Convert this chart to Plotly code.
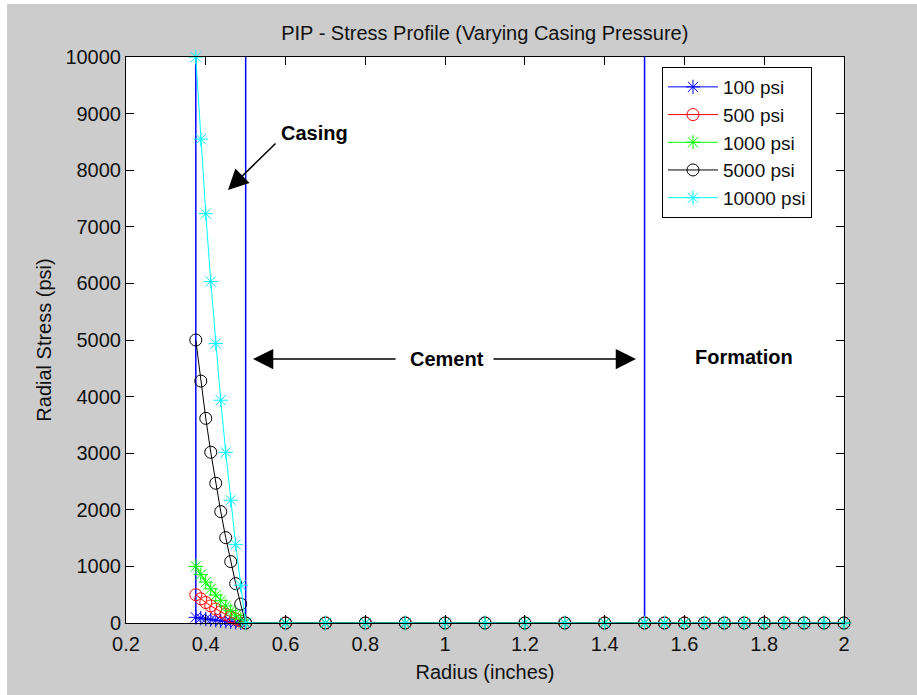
import plotly.graph_objects as go

# ---- data ----
radius = [0.375, 0.3875, 0.4, 0.4125, 0.425, 0.4375, 0.45, 0.4625, 0.475, 0.4875, 0.5,
          0.6, 0.7, 0.8, 0.9, 1.0, 1.1, 1.2, 1.3, 1.4, 1.5,
          1.55, 1.6, 1.65, 1.7, 1.75, 1.8, 1.85, 1.9, 1.95, 2.0]

outer_zero = [0, 0, 0, 0, 0, 0, 0, 0, 0, 0,
              0, 0, 0, 0, 0, 0, 0, 0, 0, 0]

stress_100 = [100, 85.5, 72.3, 60.3, 49.4, 39.4, 30.2, 21.7, 13.9, 6.7, 0]
stress_500 = [500, 427, 362, 302, 247, 197, 151, 108, 69, 33, 0]
stress_1000 = [1000, 855, 723, 603, 494, 394, 302, 217, 139, 67, 0]
stress_5000 = [5000, 4275, 3616, 3017, 2469, 1968, 1508, 1085, 695, 334, 0]
stress_10000 = [10000, 8549, 7232, 6033, 4938, 3936, 3016, 2170, 1389, 668, 0]

series_names = ["100 psi", "500 psi", "1000 psi", "5000 psi", "10000 psi"]
series_values = [stress_100, stress_500, stress_1000, stress_5000, stress_10000]
series_colors = ["#0000ff", "#ff0000", "#00ff00", "#000000", "#00ffff"]
series_symbols = ["asterisk-open", "circle-open", "asterisk-open", "circle-open", "asterisk-open"]

boundaries = [0.375, 0.5, 1.5]

x_ticks = [0.2, 0.4, 0.6, 0.8, 1.0, 1.2, 1.4, 1.6, 1.8, 2.0]
x_tick_labels = ["0.2", "0.4", "0.6", "0.8", "1", "1.2", "1.4", "1.6", "1.8", "2"]
y_ticks = [0, 1000, 2000, 3000, 4000, 5000, 6000, 7000, 8000, 9000, 10000]

FONT = "Liberation Sans, Arial, sans-serif"

fig = go.Figure()

for i, (name, vals, col, sym) in enumerate(zip(series_names, series_values, series_colors, series_symbols)):
    fig.add_trace(go.Scatter(
        x=radius, y=vals + outer_zero, name=name, mode="lines+markers",
        line=dict(color=col, width=1),
        marker=dict(symbol=sym, size=12, color=col, line=dict(color=col, width=1)),
        cliponaxis=False, legendgroup="g%d" % i,
    ))

for b in boundaries:
    fig.add_shape(type="line", xref="x", yref="paper", x0=b, x1=b, y0=0, y1=1,
                  line=dict(color="#0000ff", width=1.5), layer="below")

# white border strips of the figure window
fig.add_shape(type="rect", xref="paper", yref="paper", x0=-0.3, x1=1.2, y0=1.0936, y1=1.2,
              fillcolor="white", line=dict(width=0), layer="below")
fig.add_shape(type="rect", xref="paper", yref="paper", x0=-0.3, x1=-0.1657, y0=-0.3, y1=1.2,
              fillcolor="white", line=dict(width=0), layer="below")

arrow_kw = dict(showarrow=True, arrowhead=2, arrowsize=2.7, arrowwidth=1.5, arrowcolor="black",
                text="", axref="x", ayref="y", standoff=0, startstandoff=0)
fig.add_annotation(x=0.4557, y=7650, ax=0.5786, ay=8498, **arrow_kw)
fig.add_annotation(x=0.5184, y=4664, ax=0.8794, ay=4664, **arrow_kw)
fig.add_annotation(x=1.4785, y=4664, ax=1.1175, ay=4664, **arrow_kw)

text_font = dict(family=FONT, size=20, color="black")
fig.add_annotation(x=0.6738, y=8657, text="<b>Casing</b>", showarrow=False, font=text_font)
fig.add_annotation(x=1.0047, y=4664, text="<b>Cement</b>", showarrow=False, font=text_font)
fig.add_annotation(x=1.7493, y=4700, text="<b>Formation</b>", showarrow=False, font=text_font)

axis_common = dict(showline=True, linecolor="black", linewidth=1, mirror="ticks",
                   ticks="inside", ticklen=8, tickcolor="black", showgrid=False, zeroline=False,
                   tickfont=dict(family=FONT, size=20, color="#111111"))

fig.update_xaxes(range=[0.2, 2.0], tickvals=x_ticks, ticktext=x_tick_labels, ticklabelstandoff=3,
                 title=dict(text="Radius (inches)", font=dict(family=FONT, size=20, color="#111111"), standoff=10),
                 **axis_common)
fig.update_yaxes(range=[0, 10000], tickvals=y_ticks, tickformat="d",
                 title=dict(text="Radial Stress (psi)", font=dict(family=FONT, size=20, color="#111111"), standoff=8),
                 **axis_common)

fig.update_layout(
    width=917, height=695,
    margin=dict(l=126, r=73, t=57, b=72),
    paper_bgcolor="#cccccc", plot_bgcolor="white",
    title=dict(text="PIP - Stress Profile (Varying Casing Pressure)", x=0.5287, xanchor="center",
               y=1 - 33 / 695, yanchor="middle", yref="container",
               font=dict(family=FONT, size=20, color="#111111")),
    legend=dict(x=0.7465, y=0.9823, xanchor="left", yanchor="top",
                bgcolor="white", bordercolor="black", borderwidth=1,
                font=dict(family=FONT, size=19, color="#111111"),
                itemwidth=50,
                traceorder="grouped", tracegroupgap=0),
    showlegend=True,
)

fig.write_html("out.html")
